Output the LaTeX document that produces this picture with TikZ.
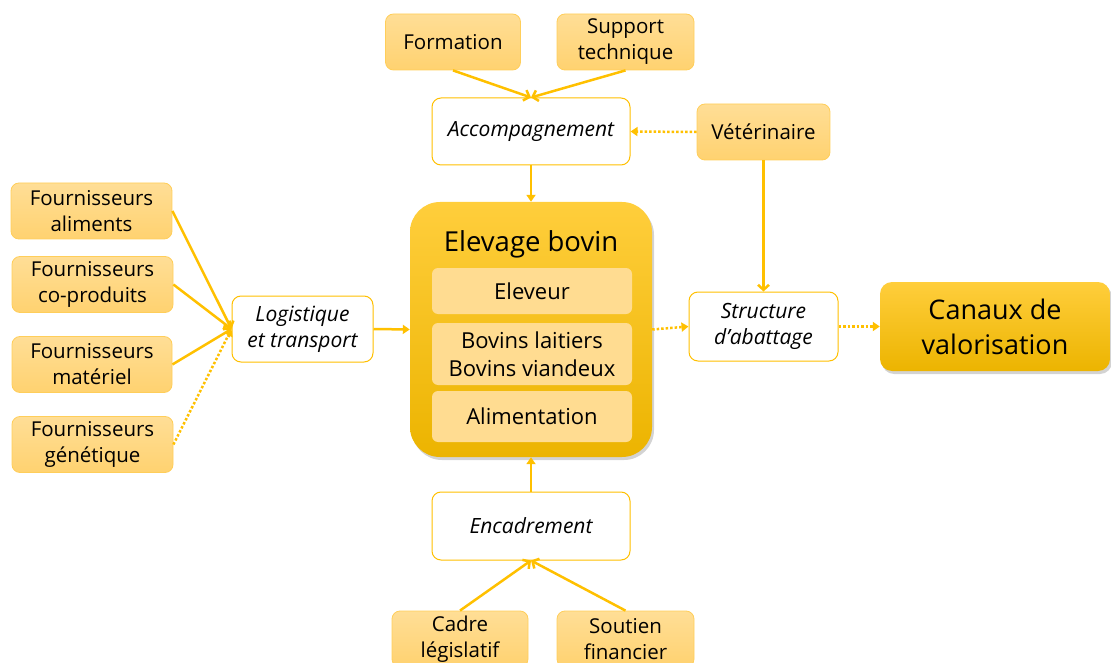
\documentclass[tikz,border=0pt]{standalone}
\usepackage{fontspec}
\setmainfont{Open Sans}
\usetikzlibrary{arrows.meta,shadows}
\definecolor{gold}{RGB}{255,192,0}
\definecolor{goldtop}{RGB}{255,206,60}
\definecolor{goldbas}{RGB}{236,180,0}
\definecolor{clairhaut}{RGB}{255,222,150}
\definecolor{clairbas}{RGB}{255,210,112}
\definecolor{clairbord}{RGB}{255,206,90}
\definecolor{interne}{RGB}{255,220,145}
\tikzset{
  acteur/.style={draw=clairbord, line width=0.8pt, rounded corners=8pt,
    top color=clairhaut, bottom color=clairbas, align=center,
    inner sep=0pt, minimum height=56pt, font=\fontsize{20.5}{26}\selectfont},
  fonction/.style={draw=gold, fill=white, line width=1pt, rounded corners=9pt,
    align=center, inner sep=0pt, font=\fontsize{21}{26}\selectfont\itshape},
  interieur/.style={fill=interne, rounded corners=6pt, align=center,
    inner sep=0pt, minimum width=200pt, font=\fontsize{22}{28}\selectfont},
  lien/.style={draw=gold, line width=2.5pt, -{Straight Barb[length=5pt,width=11pt]}},
  lienplein/.style={draw=gold, line width=2.5pt, -{Triangle[length=7pt,width=9pt]}},
  lienpoint/.style={draw=gold, line width=2.5pt, dotted, -{Triangle[length=7pt,width=9pt]}}
}
\begin{document}
\begin{tikzpicture}[x=1pt,y=-1pt]
        \useasboundingbox (0,0) rectangle (1111,663);
        % Appui en haut
        \node[acteur, minimum width=135pt] (formation) at (453,42) {Formation};
        \node[acteur, minimum width=137pt] (support) at (625.5,42) {Support\\technique};
        \node[fonction, minimum width=198pt, minimum height=67pt] (accomp) at (531,131.5) {Accompagnement};
        \node[acteur, minimum width=133pt] (veto) at (763.5,132) {Vétérinaire};
        % Bloc central
        \node[draw=none, rounded corners=30pt, top color=goldtop, bottom color=goldbas,
              drop shadow={opacity=0.35, shadow xshift=2pt, shadow yshift=-3pt},
              minimum width=242pt, minimum height=255pt] (elevage) at (531,329.5) {};
        \node[font=\fontsize{27.5}{32}\selectfont] (titre) at (531,244) {Elevage bovin};
        \node[interieur, minimum height=46pt] (eleveur) at (532,291) {Eleveur};
        \node[interieur, minimum height=62pt] (bovins) at (532,354) {Bovins laitiers\\Bovins viandeux};
        \node[interieur, minimum height=51pt] (alim) at (532,416.5) {Alimentation};
        % Fournisseurs
        \node[acteur, minimum width=161pt] (aliments) at (91.5,211) {Fournisseurs\\aliments};
        \node[acteur, minimum width=161pt] (coprod) at (92.5,284.5) {Fournisseurs\\co-produits};
        \node[acteur, minimum width=160pt] (materiel) at (92,364.5) {Fournisseurs\\matériel};
        \node[acteur, minimum width=161pt] (genetique) at (92.5,444.5) {Fournisseurs\\génétique};
        \node[fonction, minimum width=141pt, minimum height=66pt] (logist) at (302.5,329) {Logistique\\et transport};
        % Aval
        \node[fonction, minimum width=149pt, minimum height=69pt] (abattage) at (763.5,326.5) {Structure\\d'abattage};
        \node[draw=none, rounded corners=12pt, top color=goldtop, bottom color=goldbas,
              drop shadow={opacity=0.35, shadow xshift=2pt, shadow yshift=-3pt},
              minimum width=230pt, minimum height=89pt, align=center,
              font=\fontsize{27}{35}\selectfont] (canaux) at (995,326.5) {Canaux de\\valorisation};
        % Encadrement en bas
        \node[fonction, minimum width=198pt, minimum height=68pt] (encadr) at (531,526) {Encadrement};
        \node[acteur, minimum width=136pt] (cadre) at (460,639) {Cadre\\législatif};
        \node[acteur, minimum width=137pt] (soutien) at (625.5,639) {Soutien\\financier};
        % Liens
        \draw[lien] (formation.south) -- (accomp.north);
        \draw[lien] (support.south) -- (accomp.north);
        \draw[lienplein] (accomp.south) -- (elevage.north);
        \draw[lienpoint] (veto.west) -- (accomp.east);
        \draw[lien] (veto.south) -- (abattage.north);
        \draw[lien] (aliments.east) -- (logist.west);
        \draw[lien] (coprod.east) -- (logist.west);
        \draw[lien] (materiel.east) -- (logist.west);
        \draw[lienpoint] (genetique.east) -- (logist.west);
        \draw[lienplein] (logist.east) -- (elevage.west);
        \draw[lienpoint] (elevage.east) -- (abattage.west);
        \draw[lienpoint] (abattage.east) -- (canaux.west);
        \draw[lienplein] (encadr.north) -- (elevage.south);
        \draw[lien] (cadre.north) -- (encadr.south);
        \draw[lien] (soutien.north) -- (encadr.south);
\end{tikzpicture}
\end{document}
